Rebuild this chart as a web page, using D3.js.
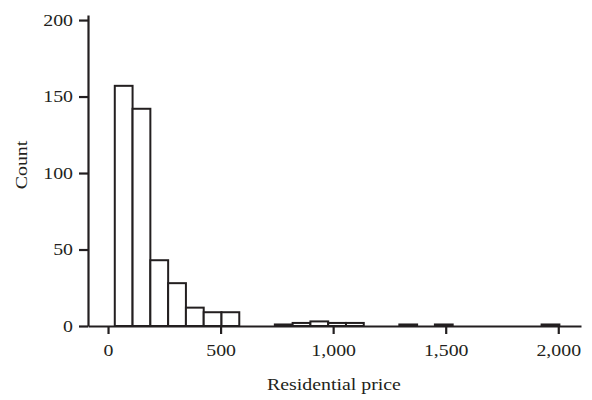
<!DOCTYPE html>
<html>
<head>
<meta charset="utf-8">
<script src="https://cdn.jsdelivr.net/npm/d3@7"></script>
<style>
  body { margin: 0; background: #fff; }
  svg text { font-family: "Liberation Serif", "Times New Roman", serif; fill: #231f20; }
</style>
</head>
<body>
<svg id="chart" width="592" height="400"></svg>
<script>
// histogram bins: lower edge of each bin and its count
const binStarts = [30, 109, 188, 267, 346, 425, 504, 741, 820, 899, 978, 1057, 1294, 1452, 1926];
const binWidth = 79;
const counts    = [157, 142, 43, 28, 12, 9, 9, 1, 2, 3, 2, 2, 1, 1, 1];
const xTicks = [0, 500, 1000, 1500, 2000];
const yTicks = [0, 50, 100, 150, 200];
const xTitle = "Residential price";
const yTitle = "Count";

const bins = binStarts.map((s, i) => ({ x0: s, x1: s + binWidth, n: counts[i] }));

const svg = d3.select("#chart");
const ink = "#231f20";

const x = d3.scaleLinear().domain([-89, 2101]).range([88, 581]);
const y = d3.scaleLinear().domain([0, 203.3]).range([326, 15]);

svg.append("g")
    .selectAll("rect")
    .data(bins)
    .join("rect")
    .attr("x", d => x(d.x0))
    .attr("y", d => y(d.n))
    .attr("width", d => x(d.x1) - x(d.x0))
    .attr("height", d => y(0) - y(d.n))
    .attr("fill", "white")
    .attr("stroke", ink)
    .attr("stroke-width", 2);

const xAxis = svg.append("g")
    .attr("transform", `translate(0,${y(0)})`)
    .call(d3.axisBottom(x).tickValues(xTicks).tickSize(8).tickSizeOuter(0).tickPadding(11)
        .tickFormat(d3.format(",")));

const yAxis = svg.append("g")
    .attr("transform", `translate(${x(-89)},0)`)
    .call(d3.axisLeft(y).tickValues(yTicks).tickSize(9).tickSizeOuter(0).tickPadding(6));

[xAxis, yAxis].forEach(g => {
    g.select(".domain").attr("stroke", ink).attr("stroke-width", 2.2);
    g.selectAll(".tick line").attr("stroke", ink).attr("stroke-width", 2.2);
    g.selectAll(".tick text").attr("font-size", 16).attr("fill", ink)
        .style("font-family", "'Liberation Serif', serif");
});

svg.append("text")
    .attr("x", 334)
    .attr("y", 390)
    .attr("text-anchor", "middle")
    .attr("font-size", 16)
    .text(xTitle);

svg.append("text")
    .attr("transform", "translate(27,165) rotate(-90)")
    .attr("text-anchor", "middle")
    .attr("font-size", 16)
    .text(yTitle);

// the original lettering is set wider than the font here, so stretch it
svg.selectAll("text").each(function() {
    const w = this.getComputedTextLength();
    d3.select(this).attr("textLength", w * 1.24).attr("lengthAdjust", "spacingAndGlyphs");
});
</script>
</body>
</html>
